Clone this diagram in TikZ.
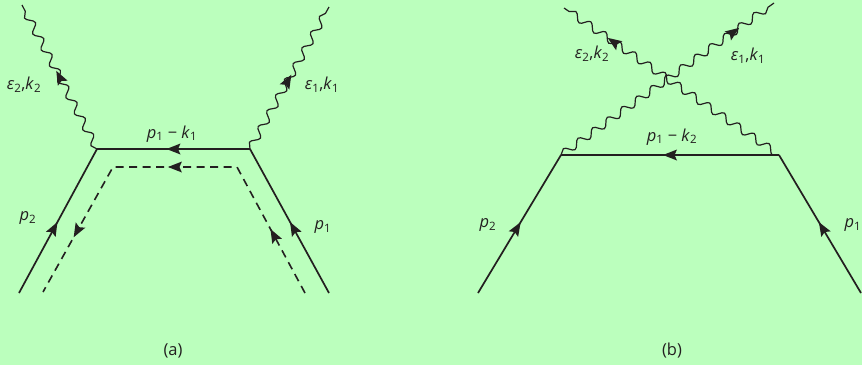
\documentclass[tikz,border=0pt]{standalone}
\usepackage{fontspec}
\setmainfont{Open Sans}
\usetikzlibrary{decorations.pathmorphing, decorations.markings}
\definecolor{bggreen}{RGB}{187,255,189}
\definecolor{ink}{RGB}{35,31,32}
\newcommand{\mom}[2]{\textit{#1}\textsubscript{#2}}

\begin{document}
\begin{tikzpicture}[x=1pt, y=-1pt,
	fermion/.style={draw=ink, line width=1.7pt},
	flow/.style={draw=ink, line width=1.6pt, dash pattern=on 8pt off 5.5pt},
	photon/.style={draw=ink, line width=1.2pt, decorate, decoration={snake, amplitude=3.8pt, segment length=18pt}},
	tipat/.style={postaction={decorate, decoration={markings, mark=at position #1 with {\fill[ink] (7pt,0) -- (-7pt,5.5pt) -- (-4.5pt,0) -- (-7pt,-5.5pt) -- cycle;}}}},
	lbl/.style={text=ink, font=\fontsize{16.5}{19}\selectfont, inner sep=0pt}]

	\fill[bggreen] (0,0) rectangle (862,365);
	\useasboundingbox (0,0) rectangle (862,365);

	% (a)
	\coordinate (a1) at (97,149);
	\coordinate (a2) at (250,149);
	\coordinate (aL) at (19,293);
	\coordinate (aR) at (329,293);
	\coordinate (aE2) at (22,5);
	\coordinate (aE1) at (329,7);
	\coordinate (d1) at (305,293);
	\coordinate (d2) at (237,167);
	\coordinate (d3) at (113,167);
	\coordinate (d4) at (43,292);

	\draw[fermion, tipat=0.45] (aL) -- (a1);
	\draw[fermion, tipat=0.5] (a2) -- (a1);
	\draw[fermion, tipat=0.45] (aR) -- (a2);
	\draw[flow, tipat=0.16, tipat=0.5, tipat=0.83] (d1) -- (d2) -- (d3) -- (d4);
	\draw[photon] (a1) -- (aE2);
	\path[tipat=0.5] (a1) -- (aE2);
	\draw[photon] (a2) -- (aE1);
	\path[tipat=0.48] (a2) -- (aE1);

	\node[lbl] (ae2) at (24,85) {\textit{ε}\textsubscript{2},\mom{k}{2}};
	\node[lbl] (ae1) at (322,85) {\textit{ε}\textsubscript{1},\mom{k}{1}};
	\node[lbl] (amid) at (172,134) {\mom{p}{1} − \mom{k}{1}};
	\node[lbl] (ap2) at (28,218) {\mom{p}{2}};
	\node[lbl] (ap1) at (323,227) {\mom{p}{1}};
	\node[lbl] (acap) at (173,351) {(a)};

	% (b)
	\coordinate (b1) at (561,155);
	\coordinate (b2) at (779,155);
	\coordinate (bL) at (478,293);
	\coordinate (bR) at (861,293);
	\coordinate (bE2) at (564,8);
	\coordinate (bE1) at (774,3);

	\draw[fermion, tipat=0.47] (bL) -- (b1);
	\draw[fermion, tipat=0.5] (b2) -- (b1);
	\draw[fermion, tipat=0.47] (bR) -- (b2);
	\draw[photon] (b2) -- (bE2);
	\path[tipat=0.77] (b2) -- (bE2);
	\draw[photon] (b1) -- (bE1);
	\path[tipat=0.81] (b1) -- (bE1);

	\node[lbl] (be2) at (592,54) {\textit{ε}\textsubscript{2},\mom{k}{2}};
	\node[lbl] (be1) at (748,56) {\textit{ε}\textsubscript{1},\mom{k}{1}};
	\node[lbl] (bmid) at (672,137) {\mom{p}{1} − \mom{k}{2}};
	\node[lbl] (bp2) at (488,225) {\mom{p}{2}};
	\node[lbl] (bp1) at (853,225) {\mom{p}{1}};
	\node[lbl] (bcap) at (672,351) {(b)};
\end{tikzpicture}
\end{document}
